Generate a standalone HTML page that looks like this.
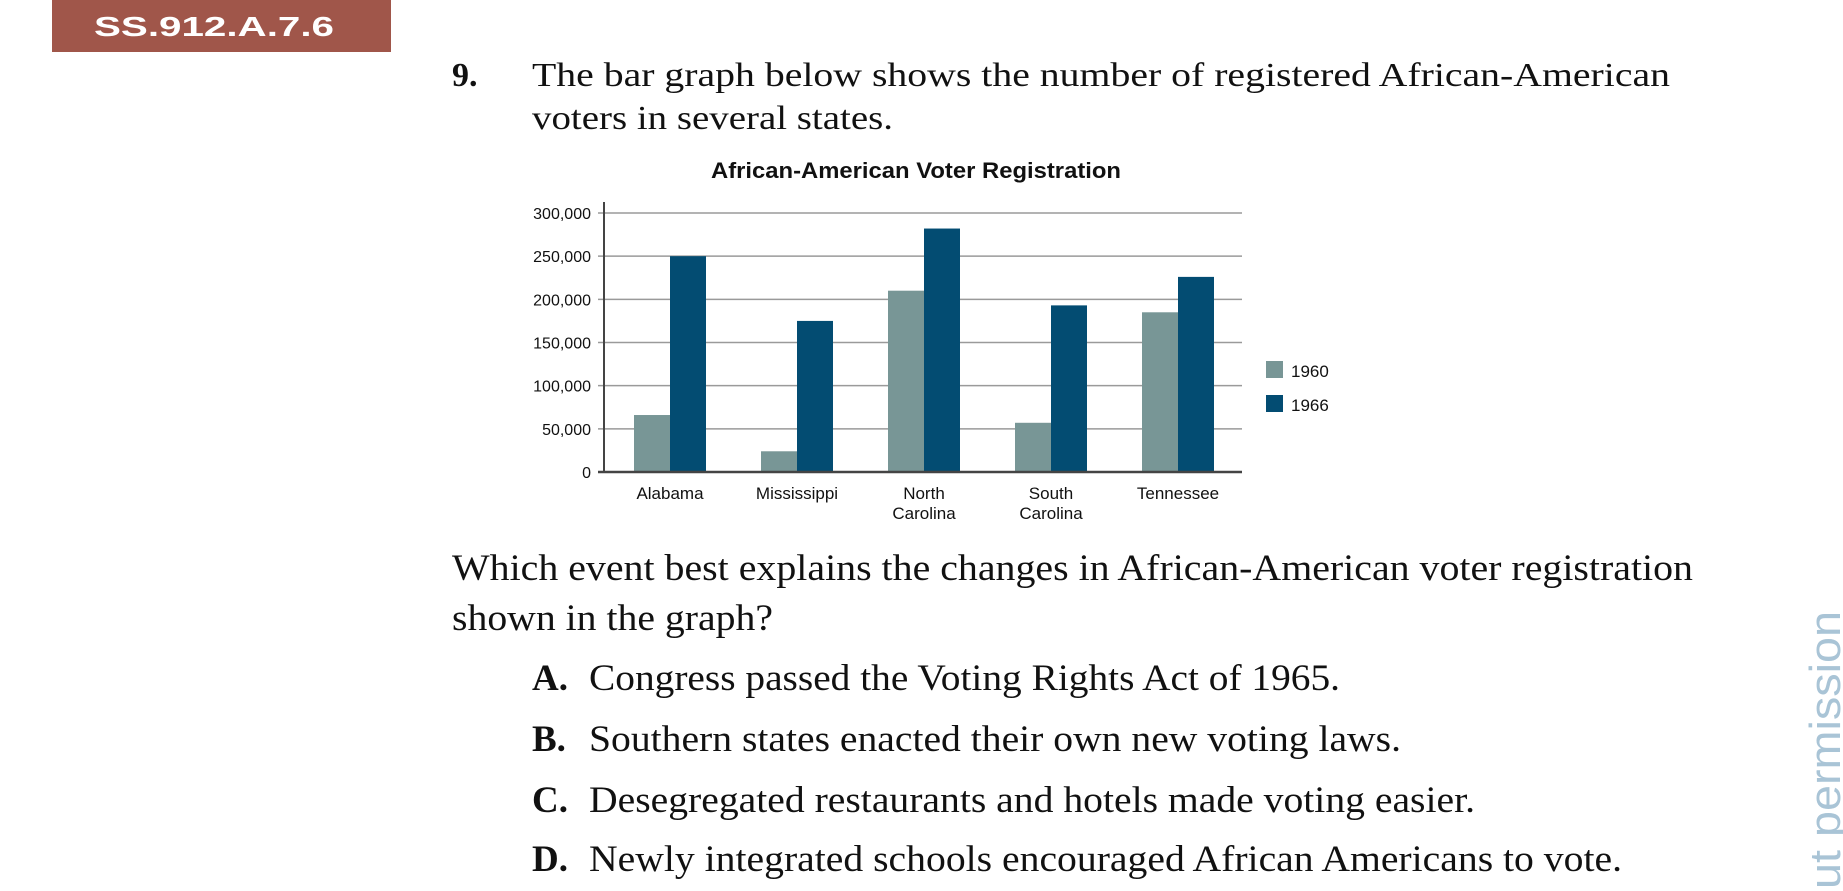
<!DOCTYPE html>
<html><head><meta charset="utf-8"><style>
html,body{margin:0;padding:0;background:#fff;overflow:hidden;width:1843px;height:891px;}
svg{display:block;}
.serif{font-family:"Liberation Serif",serif;fill:#111;}
.cond{font-family:"Liberation Sans Narrow","Liberation Sans",sans-serif;fill:#111;}
</style></head><body>
<svg id="page" width="1843" height="891" viewBox="0 0 1843 891" xmlns="http://www.w3.org/2000/svg">
<rect x="52" y="0" width="339" height="52" fill="#a0564a"/>
<text x="94" y="36" font-family="Liberation Sans, sans-serif" font-weight="bold" font-size="28" fill="#fff" textLength="240" lengthAdjust="spacingAndGlyphs">SS.912.A.7.6</text>

<text class="serif" x="452" y="86" font-size="34" font-weight="bold">9.</text>
<text class="serif" x="532" y="86" font-size="34" textLength="1138" lengthAdjust="spacingAndGlyphs">The bar graph below shows the number of registered African-American</text>
<text class="serif" x="532" y="129" font-size="34" textLength="361" lengthAdjust="spacingAndGlyphs">voters in several states.</text>

<text class="cond" x="711" y="178" font-size="22" font-weight="bold" textLength="410" lengthAdjust="spacingAndGlyphs">African-American Voter Registration</text>
<g id="chart"></g>

<text class="serif" x="452" y="580" font-size="37" textLength="1241" lengthAdjust="spacingAndGlyphs">Which event best explains the changes in African-American voter registration</text>
<text class="serif" x="452" y="630" font-size="37" textLength="321" lengthAdjust="spacingAndGlyphs">shown in the graph?</text>

<g><text class="serif" x="532" y="690" font-size="37" font-weight="bold">A.</text><text class="serif" x="589" y="690" font-size="37" textLength="751" lengthAdjust="spacingAndGlyphs">Congress passed the Voting Rights Act of 1965.</text></g>
<g><text class="serif" x="532" y="751" font-size="37" font-weight="bold">B.</text><text class="serif" x="589" y="751" font-size="37" textLength="812" lengthAdjust="spacingAndGlyphs">Southern states enacted their own new voting laws.</text></g>
<g><text class="serif" x="532" y="812" font-size="37" font-weight="bold">C.</text><text class="serif" x="589" y="812" font-size="37" textLength="886" lengthAdjust="spacingAndGlyphs">Desegregated restaurants and hotels made voting easier.</text></g>
<g><text class="serif" x="532" y="871" font-size="37" font-weight="bold">D.</text><text class="serif" x="589" y="871" font-size="37" textLength="1033" lengthAdjust="spacingAndGlyphs">Newly integrated schools encouraged African Americans to vote.</text></g>

<text transform="translate(1840,889) rotate(-90)" font-family="Liberation Sans, sans-serif" font-size="44" fill="#a9c4d6" textLength="278" lengthAdjust="spacingAndGlyphs">ut permission</text>
</svg>
<script>
const categories = [["Alabama"],["Mississippi"],["North","Carolina"],["South","Carolina"],["Tennessee"]];
const values1960 = [66000, 24000, 210000, 57000, 185000];
const values1966 = [250000, 175000, 282000, 193000, 226000];
const yTicks = [0, 50000, 100000, 150000, 200000, 250000, 300000];
const tickLabels = ["0","50,000","100,000","150,000","200,000","250,000","300,000"];
const seriesNames = ["1960","1966"];

const NS = "http://www.w3.org/2000/svg";
const chartG = document.getElementById("chart");
const plotLeft = 604, plotRight = 1242, plotBottom = 472, plotTop = 213, yMax = 300000;
const yScale = v => plotBottom - (v / yMax) * (plotBottom - plotTop);
const groupW = 127, barW = 36, groupPad = 30;
const xGroup = i => plotLeft + groupPad + i * groupW;
function mk(tag, attrs){ const e = document.createElementNS(NS, tag); for (const k in attrs) e.setAttribute(k, attrs[k]); chartG.appendChild(e); return e; }

yTicks.forEach((t, i) => {
  if (t > 0) {
    const l = mk("line", {x1: plotLeft - 6, x2: plotRight, y1: yScale(t), y2: yScale(t), stroke: "#9a9a9a", "stroke-width": 1.5});
    
    
  }
  const tx = mk("text", {x: 591, y: yScale(t) + 6, "text-anchor": "end", "font-size": 16, class: "cond"});
  tx.textContent = tickLabels[i];
  
  
});

const colors = ["#789696", "#034c72"];
[values1960, values1966].forEach((vals, s) => {
  vals.forEach((v, i) => {
    const r = mk("rect", {x: xGroup(i) + s * barW, y: yScale(v), width: barW, height: plotBottom - yScale(v), fill: colors[s]});
    
    
  });
});

const ax = mk("line", {x1: plotLeft, x2: plotLeft, y1: 202, y2: plotBottom + 1, stroke: "#444", "stroke-width": 2});


const bx = mk("line", {x1: plotLeft - 6, x2: plotRight, y1: plotBottom, y2: plotBottom, stroke: "#444", "stroke-width": 2.5});



categories.forEach((c, i) => {
  const cx = xGroup(i) + barW;
  c.forEach((line, j) => {
    const t = mk("text", {x: cx, y: 499 + j * 20, "text-anchor": "middle", "font-size": 17, class: "cond"});
    t.textContent = line;
    
    
  });
});

seriesNames.forEach((n, s) => {
  const yy = 361 + s * 34;
  const r = mk("rect", {x: 1266, y: yy, width: 17, height: 17, fill: colors[s]});
  
  
  const t = mk("text", {x: 1291, y: yy + 16, "font-size": 17, class: "cond"});
  t.textContent = n;
  
  
});
</script>
</body></html>
